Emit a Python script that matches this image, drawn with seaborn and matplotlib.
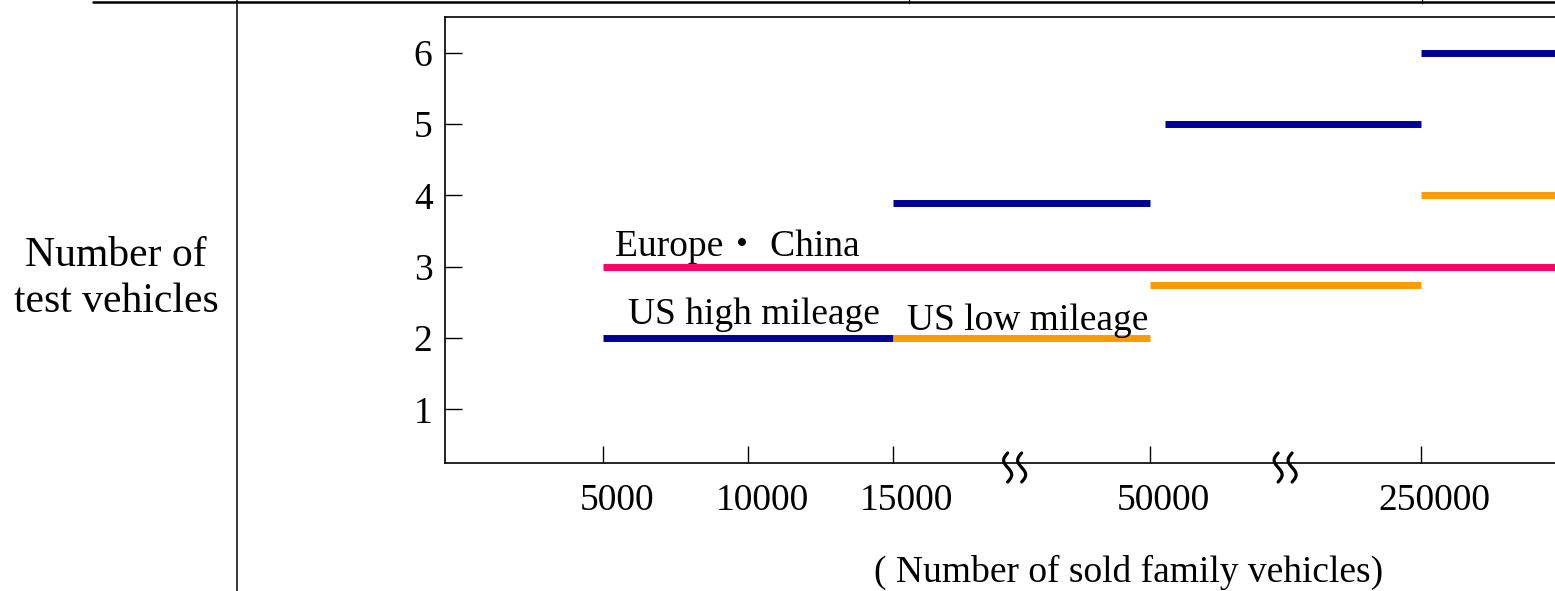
import numpy as np
import pandas as pd
import seaborn as sns
import matplotlib.pyplot as plt
from matplotlib.lines import Line2D
from matplotlib.transforms import Affine2D, ScaledTranslation

# sold-vehicle breakpoints shown on the x axis
X_TICKS = [5000, 10000, 15000, 50000, 250000]
X_TICK_LABELS = ["5000", "10000", "15000", "50000", "250000"]
Y_TICKS = [1, 2, 3, 4, 5, 6]
OPEN_END = 450000  # segments that run off the right edge
BREAKS = [31600, 150000]

# one row per horizontal step segment
SEG_START = [5000, 15000, 5000, 50000, 15000, 61000, 250000, 250000]
SEG_END = [15000, 50000, OPEN_END, 250000, 50000, 250000, OPEN_END, OPEN_END]
SEG_VALUE = [2, 2, 3, 2.75, 3.9, 5, 6, 4]
SEG_GROUP = ["US high mileage", "US low mileage", "Europe・ China", "US low mileage",
             "US high mileage", "US high mileage", "US high mileage", "US low mileage"]

PALETTE = {"US high mileage": "#000099", "US low mileage": "#FF9900", "Europe・ China": "#FF0066"}

# broken axis: piecewise linear scale
SCALE_VAL = [-5000, 0, 5000, 10000, 15000, 50000, 250000, 450000]
SCALE_POS = [-2.0, -1.0, 0.0, 1.0, 2.0, 3.772, 5.641, 7.5]


def fwd(v):
    return np.interp(v, SCALE_VAL, SCALE_POS)


def inv(p):
    return np.interp(p, SCALE_POS, SCALE_VAL)


def plot():
    sns.set_style("ticks")
    plt.rcParams['font.family'] = ['Liberation Serif', 'Noto Sans CJK JP', 'DejaVu Sans']
    plt.rcParams['text.color'] = 'black'
    FS = 27

    rows = []
    for i, (s, e, v, g) in enumerate(zip(SEG_START, SEG_END, SEG_VALUE, SEG_GROUP)):
        rows.append({"seg": i, "sold": s, "n": v, "group": g})
        rows.append({"seg": i, "sold": e, "n": v, "group": g})
    df = pd.DataFrame(rows)

    fig = plt.figure(figsize=(15.55, 5.91), dpi=100)
    ax = fig.add_axes([445 / 1555, 128 / 591, (1690 - 445) / 1555, 446 / 591])
    ax.set_xscale('function', functions=(fwd, inv))

    sns.lineplot(data=df, x="sold", y="n", hue="group", units="seg", estimator=None,
                 palette=PALETTE, linewidth=5, legend=False, sort=False, ax=ax,
                 solid_capstyle='butt')

    ax.set_xlim(-450, OPEN_END)
    ax.set_ylim(0.25, 6.5)
    ax.set_xticks(X_TICKS)
    ax.set_xticklabels(X_TICK_LABELS, fontsize=FS)
    ax.set_yticks(Y_TICKS)
    ax.set_yticklabels([str(t) for t in Y_TICKS], fontsize=FS)
    ax.tick_params(axis='x', direction='in', length=12, width=1, pad=15,
                   colors='black', bottom=True)
    ax.tick_params(axis='y', direction='in', length=12, width=1, pad=9,
                   colors='black', left=True)
    # labels in the source sit a little right of their ticks
    shift = ScaledTranslation(14 / 100, 0, fig.dpi_scale_trans)
    for lab in ax.get_xticklabels():
        lab.set_transform(lab.get_transform() + shift)
    ax.set_xlabel("")
    ax.set_ylabel("")
    for sp in ax.spines.values():
        sp.set_visible(True)
        sp.set_color('black')
        sp.set_linewidth(1.2)

    # segment labels, anchored at the start of their segment
    ax.annotate("Europe・ China", (5000, 3), xytext=(9, 8), textcoords='offset points',
                fontsize=FS, va='baseline', ha='left')
    ax.annotate("US high mileage", (5000, 2), xytext=(18, 10), textcoords='offset points',
                fontsize=FS, va='baseline', ha='left')
    ax.annotate("US low mileage", (15000, 2), xytext=(10, 6), textcoords='offset points',
                fontsize=FS, va='baseline', ha='left')

    # axis break marks: two small wavy strokes crossing the x axis
    u = np.linspace(0, 1, 60)
    wave_x = -4 * np.sin(2 * np.pi * u)
    wave_y = 10 - 29 * u
    for b in BREAKS:
        bx, by = ax.transData.transform((b, 0.25))
        for dx in (-7, 7):
            ax.plot(wave_x + dx, wave_y, color='black', linewidth=2.3,
                    transform=Affine2D().translate(bx, by), clip_on=False)

    fig.text(116 / 1555, 1 - 279 / 591, "Number of\ntest vehicles", fontsize=30,
             ha='center', va='center', multialignment='center', linespacing=1.25)
    fig.text(1129 / 1555, 1 - 572 / 591, "( Number of sold family vehicles)", fontsize=FS,
             ha='center', va='center')

    # surrounding table rules
    fig.add_artist(Line2D([93 / 1555, 1], [1 - 1.5 / 591] * 2, color='black', linewidth=1.8))
    fig.add_artist(Line2D([237 / 1555] * 2, [0, 1], color='black', linewidth=1.1))
    for tx in [909, 1422]:
        fig.add_artist(Line2D([tx / 1555] * 2, [1 - 3 / 591, 1], color='black', linewidth=1))

    fig.savefig("out.png", dpi=100)


if __name__ == "__main__":
    plot()
